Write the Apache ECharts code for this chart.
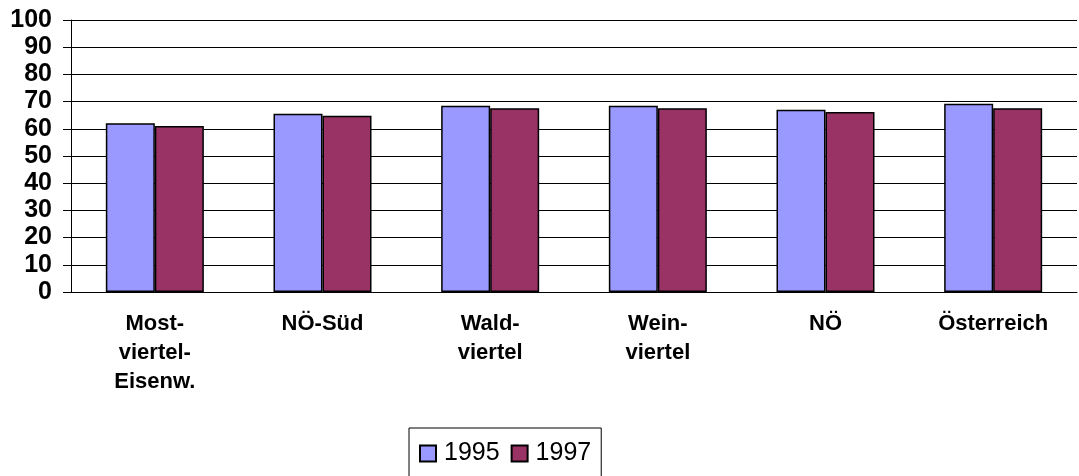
<!DOCTYPE html>
<html>
<head>
<meta charset="utf-8">
<script src="https://cdn.jsdelivr.net/npm/echarts@6/dist/echarts.min.js"></script>
<style>
  html, body { margin: 0; padding: 0; background: #fff; }
  #chart { width: 1079px; height: 476px; }
</style>
</head>
<body>
<div id="chart"></div>
<script>
var categories = ['Most-\nviertel-\nEisenw.', 'NÖ-Süd', 'Wald-\nviertel', 'Wein-\nviertel', 'NÖ', 'Österreich'];
var values1995 = [62, 65.5, 68.5, 68.5, 67, 69.2];
var values1997 = [61, 64.8, 67.6, 67.6, 66.2, 67.6];
var yTicks = [0, 100, 10];

var chart = echarts.init(document.getElementById('chart'));
var option = {
    animation: false,
    textStyle: { fontFamily: 'Liberation Sans, Arial, sans-serif' },
    grid: { left: 71, right: 2, top: 20, bottom: 184 },
    legend: {
        left: 409,
        top: 428,
        padding: [13, 10, 14, 10],
        itemWidth: 16,
        itemHeight: 16,
        itemGap: 11,
        borderColor: '#000',
        borderWidth: 1,
        icon: 'rect',
        textStyle: { fontSize: 25, color: '#000', padding: [0, 0, 0, 3] },
        data: ['1995', '1997']
    },
    xAxis: {
        type: 'category',
        data: categories,
        axisLine: { lineStyle: { color: '#000', width: 1 } },
        axisTick: { length: 7, lineStyle: { color: '#000' } },
        axisLabel: {
            color: '#000',
            fontWeight: 'bold',
            fontSize: 22,
            lineHeight: 29,
            margin: 17,
            interval: 0
        }
    },
    yAxis: {
        type: 'value',
        min: yTicks[0],
        max: yTicks[1],
        interval: yTicks[2],
        axisLine: { show: true, lineStyle: { color: '#000', width: 1 } },
        axisTick: { show: true, length: 8, lineStyle: { color: '#000' } },
        splitLine: { lineStyle: { color: '#000', width: 1 } },
        axisLabel: {
            color: '#000',
            fontWeight: 'bold',
            fontSize: 25,
            margin: 19
        }
    },
    series: [{
        name: '1995',
        type: 'bar',
        data: values1995,
        barWidth: 49,
        barGap: '0%',
        itemStyle: { color: '#9999FF', borderColor: '#000', borderWidth: 1.5 }
    }, {
        name: '1997',
        type: 'bar',
        data: values1997,
        barWidth: 49,
        itemStyle: { color: '#993366', borderColor: '#000', borderWidth: 1.5 }
    }]
};
chart.setOption(option);
</script>
</body>
</html>
